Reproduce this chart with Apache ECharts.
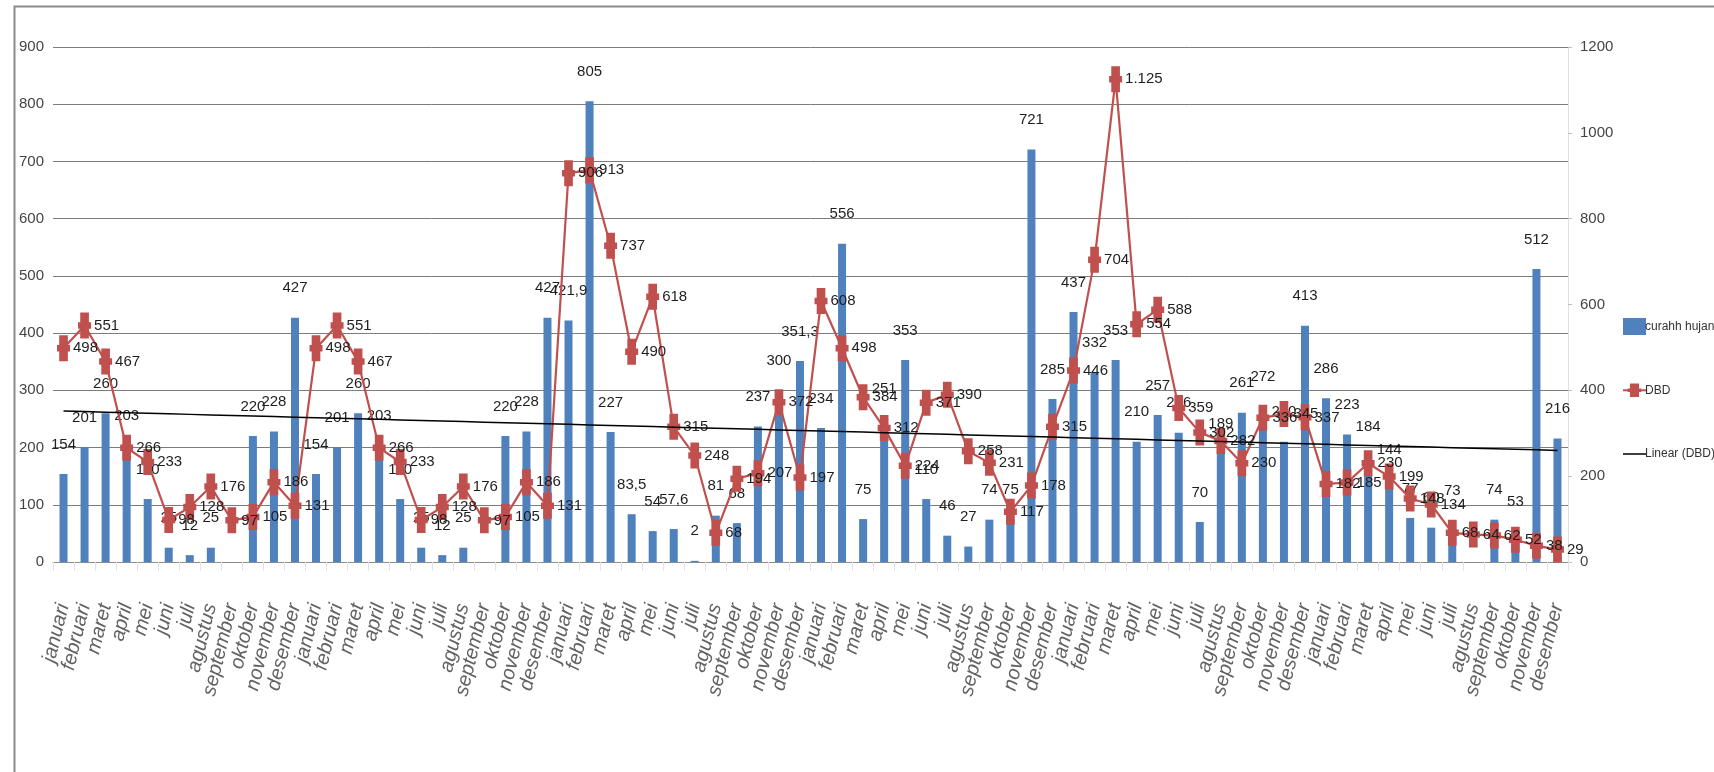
<!DOCTYPE html>
<html>
<head>
<meta charset="utf-8">
<script src="https://cdn.jsdelivr.net/npm/echarts@6/dist/echarts.min.js"></script>
<style>
  html, body { margin: 0; padding: 0; background: #ffffff; }
  #chart { width: 1714px; height: 772px; }
</style>
</head>
<body>
<div id="chart"></div>
<script>
// Nama bulan (label sumbu X), diulang untuk setiap tahun
const bulan = ['januari', 'februari', 'maret', 'april', 'mei', 'juni',
               'juli', 'agustus', 'september', 'oktober', 'november', 'desember'];
const jumlahTahun = 6;

// Curah hujan bulanan (mm), satu baris per tahun
const curahHujan = [
  154, 201, 260, 203, 110, 25, 12, 25, null, 220, 228, 427,
  154, 201, 260, 203, 110, 25, 12, 25, null, 220, 228, 427,
  421.9, 805, 227, 83.5, 54, 57.6, 2, 81, 68, 237, 300, 351.3,
  234, 556, 75, 251, 353, 110, 46, 27, 74, 75, 721, 285,
  437, 332, 353, 210, 257, 226, 70, 189, 261, 272, 210, 413,
  286, 223, 184, 144, 77, 60, 73, null, 74, 53, 512, 216
];

// Kasus DBD bulanan, satu baris per tahun
const kasusDBD = [
  498, 551, 467, 266, 233, 98, 128, 176, 97, 105, 186, 131,
  498, 551, 467, 266, 233, 98, 128, 176, 97, 105, 186, 131,
  906, 913, 737, 490, 618, 315, 248, 68, 194, 207, 372, 197,
  608, 498, 384, 312, 224, 371, 390, 258, 231, 117, 178, 315,
  446, 704, 1125, 554, 588, 359, 302, 282, 230, 336, 345, 337,
  182, 185, 230, 199, 148, 134, 68, 64, 62, 52, 38, 29
];

// Skala sumbu
const sumbuKiri = { min: 0, max: 900, interval: 100 };
const sumbuKanan = { min: 0, max: 1200, interval: 200 };

const namaSeri = ['curahh hujan', 'DBD', 'Linear (DBD)'];

const kategori = [];
for (let t = 0; t < jumlahTahun; t++) kategori.push(...bulan);

// Garis tren linear (kuadrat terkecil) dari data DBD
function trenLinear(ys) {
  const n = ys.length;
  let sx = 0, sy = 0, sxx = 0, sxy = 0;
  ys.forEach((y, i) => { sx += i; sy += y; sxx += i * i; sxy += i * y; });
  const b = (n * sxy - sx * sy) / (n * sxx - sx * sx);
  const a = (sy - b * sx) / n;
  return ys.map((_, i) => +(a + b * i).toFixed(2));
}

// Format angka gaya Indonesia: titik ribuan, koma desimal
function formatAngka(v) {
  if (v === null || v === undefined || v === '-') return '';
  const s = String(v).split('.');
  const bulat = s[0].replace(/\B(?=(\d{3})+(?!\d))/g, '.');
  return s.length > 1 ? bulat + ',' + s[1] : bulat;
}

const FONT = "'Liberation Sans Narrow', 'Arial Narrow', 'Liberation Sans', Arial, sans-serif";
// Penanda plus tebal untuk seri DBD
const simbolPlus = 'path://M2,0H10V9H12V15H10V24H2V15H0V9H2Z';
// Ikon legenda garis tren: garis tipis di tengah kotak 23x17
const ikonGaris = 'path://M0,0H0.05V0.05H0ZM0,7.6H23V9.2H0ZM22.95,16.95H23V17H22.95Z';

const chart = echarts.init(document.getElementById('chart'), null, { renderer: 'canvas' });

chart.setOption({
  animation: false,
  backgroundColor: '#ffffff',
  textStyle: { fontFamily: FONT },
  graphic: [{
    type: 'rect',
    left: 12, top: 4,
    shape: { width: 1800, height: 900 },
    style: { fill: 'none', stroke: '#8a8a8a', lineWidth: 2 },
    silent: true, z: -10
  }],
  grid: { left: 53, right: 146, top: 47, bottom: 210, containLabel: false },
  legend: {
    orient: 'vertical',
    left: 1617, top: 313,
    itemGap: 48.5,
    itemWidth: 23, itemHeight: 17,
    data: [
      { name: namaSeri[0], icon: 'rect' },
      { name: namaSeri[1] },
      { name: namaSeri[2], icon: ikonGaris }
    ],
    textStyle: { fontFamily: FONT, fontSize: 12, color: '#333333', padding: [0, 0, 0, -6] }
  },
  xAxis: {
    type: 'category',
    data: kategori,
    boundaryGap: true,
    axisLine: { show: true, lineStyle: { color: '#8c8c8c', width: 1 } },
    axisTick: { show: true, interval: 0, alignWithLabel: false, length: 9, lineStyle: { color: '#e3e3e3' } },
    axisLabel: {
      interval: 0, rotate: 76, margin: 42,
      fontFamily: FONT, fontSize: 20, fontStyle: 'italic', color: '#626262'
    }
  },
  yAxis: [{
    type: 'value',
    min: sumbuKiri.min, max: sumbuKiri.max, interval: sumbuKiri.interval,
    axisLine: { show: false },
    axisTick: { show: false },
    axisLabel: { margin: 9, fontFamily: FONT, fontSize: 15, color: '#444444' },
    splitLine: { show: true, lineStyle: { color: '#7c7c7c', width: 1 } }
  }, {
    type: 'value',
    position: 'right',
    min: sumbuKanan.min, max: sumbuKanan.max, interval: sumbuKanan.interval,
    axisLine: { show: true, lineStyle: { color: '#e0e0e0', width: 1 } },
    axisTick: { show: true, length: 4, lineStyle: { color: '#bdbdbd' } },
    axisLabel: { margin: 12, fontFamily: FONT, fontSize: 15, color: '#444444', formatter: v => String(v) },
    splitLine: { show: false }
  }],
  series: [{
    name: namaSeri[0],
    type: 'bar',
    yAxisIndex: 0,
    data: curahHujan,
    barWidth: 8,
    itemStyle: { color: '#4f81bd' },
    label: {
      show: true, position: 'top', distance: 22,
      fontFamily: FONT, fontSize: 15, color: '#1e1e1e',
      formatter: p => formatAngka(p.value)
    },
    z: 2
  }, {
    name: namaSeri[1],
    type: 'line',
    yAxisIndex: 1,
    data: kasusDBD,
    symbol: simbolPlus,
    symbolSize: [13, 26],
    showAllSymbol: true,
    lineStyle: { color: '#c0504d', width: 2.2 },
    itemStyle: { color: '#c0504d', borderWidth: 0 },
    label: {
      show: true, position: 'right', distance: 3,
      fontFamily: FONT, fontSize: 15, color: '#1e1e1e',
      formatter: p => formatAngka(p.value)
    },
    z: 4
  }, {
    name: namaSeri[2],
    type: 'line',
    yAxisIndex: 1,
    data: trenLinear(kasusDBD),
    symbol: 'none',
    lineStyle: { color: '#000000', width: 1.5 },
    itemStyle: { color: '#000000' },
    z: 5
  }]
});
</script>
</body>
</html>
